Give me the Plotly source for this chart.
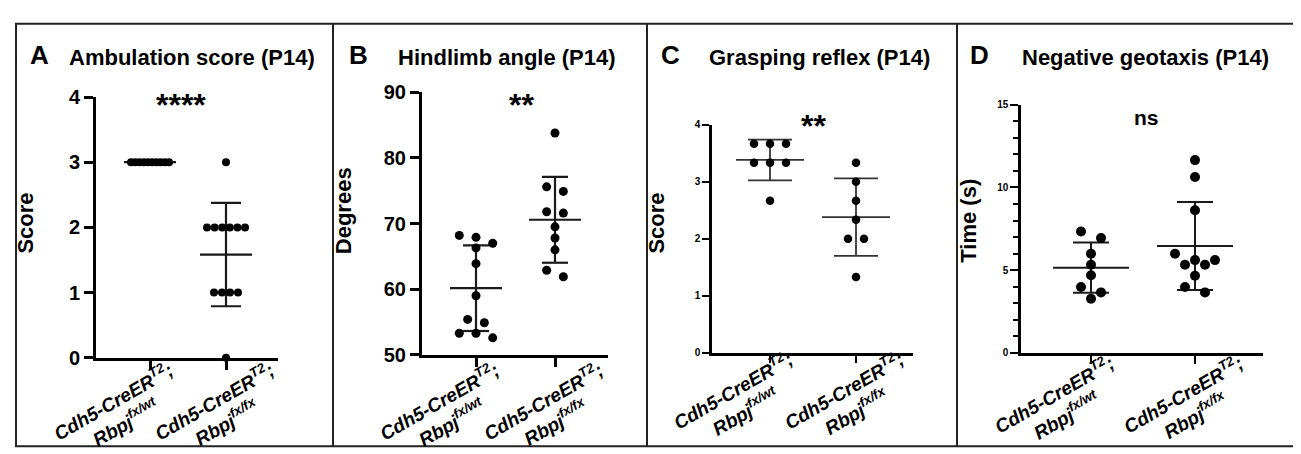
import numpy as np
import plotly.graph_objects as go

W, H = 1301, 454

# ---------------- data ----------------
group_line1 = "Cdh5-CreER<sup>T2</sup>;"
group_line2 = ["Rbpj<sup>fx/wt</sup>", "Rbpj<sup>fx/fx</sup>"]

ambulation_ctrl = [3, 3, 3, 3, 3, 3, 3, 3, 3, 3]
ambulation_mut = [3, 2, 2, 2, 2, 2, 2, 1, 1, 1, 1, 0]

hindlimb_ctrl = [68.2, 67.9, 67.0, 66.3, 63.9, 59.0, 55.4, 54.9, 53.3, 53.3, 52.6]
hindlimb_mut = [83.8, 75.6, 74.9, 71.8, 71.6, 69.5, 67.8, 66.0, 62.9, 61.9]

grasp_ctrl = [3.667, 3.667, 3.667, 3.333, 3.333, 3.333, 2.667]
grasp_mut = [3.333, 3.0, 2.667, 2.333, 2.0, 2.0, 1.333]

geotaxis_ctrl = [7.34, 6.95, 5.99, 5.33, 4.70, 3.99, 3.66, 3.28]
geotaxis_mut = [11.65, 10.63, 8.62, 5.99, 5.61, 5.61, 5.33, 5.33, 4.66, 3.99, 3.66]

panel_letters = ["A", "B", "C", "D"]
panel_titles = ["Ambulation score (P14)", "Hindlimb angle (P14)",
                "Grasping reflex (P14)", "Negative geotaxis (P14)"]
y_titles = ["Score", "Degrees", "Score", "Time (s)"]
significance = ["****", "**", "**", "ns"]
y_ticks = [[0, 1, 2, 3, 4], [50, 60, 70, 80, 90], [0, 1, 2, 3, 4], [0, 5, 10, 15]]
y_ranges = [(0, 4), (50, 90), (0, 4), (0, 15)]
series = [(ambulation_ctrl, ambulation_mut), (hindlimb_ctrl, hindlimb_mut),
          (grasp_ctrl, grasp_mut), (geotaxis_ctrl, geotaxis_mut)]

# ---------------- layout / style (pixels) ----------------
panels = [
    dict(x0=88, x1=270, g=(142, 218), ytop=82, ybot=356, diam=8, step=8, maxhalf=19,
         mean_half=26, cap_half=15, tickfont=20, axw=3, ticklen=9, ebw=2.2, ebc="#1a1a1a",
         letter=(31, 38), title=(184, 40), ytitle=(27, 220), sig=(173, 90, 32), lab_dy=56),
    dict(x0=414, x1=600, g=(468, 547), ytop=77, ybot=353, diam=9, step=16.7, maxhalf=40,
         mean_half=26, cap_half=13, tickfont=20, axw=3, ticklen=9, ebw=2.2, ebc="#1a1a1a",
         letter=(350, 38), title=(499, 40), ytitle=(344, 207), sig=(513, 90, 32), lab_dy=59),
    dict(x0=704, x1=905, g=(762, 848), ytop=111, ybot=351, diam=8.5, step=16, maxhalf=40,
         mean_half=34, cap_half=22, tickfont=10, axw=2.5, ticklen=7, ebw=1.8, ebc="#333333",
         letter=(662, 38), title=(811, 40), ytitle=(658, 220), sig=(806, 112, 32), lab_dy=50),
    dict(x0=1013, x1=1255, g=(1083, 1187), ytop=90, ybot=351, diam=10, step=20, maxhalf=40,
         mean_half=38, cap_half=18, tickfont=10, axw=2.5, ticklen=8, ebw=2, ebc="#1a1a1a",
         letter=(971, 38), title=(1137, 40), ytitle=(970, 217), sig=(1138, 104, 21), lab_dy=54),
]
LAB_DX = (-31, -6)
YT_SHIFT = (-9, -5)
FONT = "Liberation Sans, Arial, sans-serif"


def swarm_offsets(vals, yppu, diam, step, max_half):
    vals = np.asarray(vals, float)
    order = np.argsort(-vals, kind="stable")
    rows = []
    for i in order:
        if rows and (vals[rows[-1][0]] - vals[i]) * yppu < diam:
            rows[-1].append(i)
        else:
            rows.append([i])
    offs = np.zeros(len(vals))
    for r in rows:
        n = len(r)
        s = step if n == 1 else min(step, 2 * max_half / (n - 1))
        for k, i in enumerate(r):
            offs[i] = (k - (n - 1) / 2) * s
    return offs


fig = go.Figure()
annotations = []
shapes = []

for p_i, (P, (ctrl, mut)) in enumerate(zip(panels, series)):
    ax = "" if p_i == 0 else str(p_i + 1)
    xppu = (P["g"][1] - P["g"][0])
    xr = (-(P["g"][0] - P["x0"]) / xppu, 1 + (P["x1"] - P["g"][1]) / xppu)
    y0, y1 = y_ranges[p_i]
    yppu = (P["ybot"] - P["ytop"]) / (y1 - y0)

    for g, vals in enumerate((ctrl, mut)):
        vals = np.asarray(vals, float)
        m = vals.mean()
        sd = vals.std(ddof=1)
        mh = P["mean_half"] / xppu
        ch = P["cap_half"] / xppu
        fig.add_trace(go.Scatter(
            x=[g - mh, g + mh, None, g, g, None, g - ch, g + ch, None, g - ch, g + ch],
            y=[m, m, None, m - sd, m + sd, None, m + sd, m + sd, None, m - sd, m - sd],
            mode="lines", line=dict(color=P["ebc"], width=P["ebw"]),
            xaxis="x" + ax, yaxis="y" + ax, showlegend=False, hoverinfo="skip",
            cliponaxis=False))
        offs = swarm_offsets(vals, yppu, P["diam"], P["step"], P["maxhalf"]) / xppu
        fig.add_trace(go.Scatter(
            x=g + offs, y=vals, mode="markers",
            marker=dict(color="black", size=P["diam"], line=dict(width=0)),
            xaxis="x" + ax, yaxis="y" + ax, showlegend=False, cliponaxis=False))

    xdom = [P["x0"] / W, P["x1"] / W]
    ydom = [1 - P["ybot"] / H, 1 - P["ytop"] / H]
    minor = None
    if p_i == 3:
        minor = dict(dtick=1, ticks="outside", ticklen=5, tickwidth=2, tickcolor="black")
    fig.update_layout(**{
        "xaxis" + ax: dict(domain=xdom, range=list(xr), anchor="y" + ax,
                           showline=True, linecolor="black", linewidth=P["axw"],
                           ticks="outside", tickvals=[0, 1], ticklen=P["ticklen"],
                           tickwidth=P["axw"] - 0.5, tickcolor="black",
                           showticklabels=False, showgrid=False, zeroline=False,
                           fixedrange=True),
        "yaxis" + ax: dict(domain=ydom, range=[y0, y1], anchor="x" + ax,
                           showline=True, linecolor="black", linewidth=P["axw"],
                           ticks="outside", tickvals=y_ticks[p_i],
                           ticktext=["<b>%g</b>" % v for v in y_ticks[p_i]],
                           ticklen=P["ticklen"],
                           tickwidth=P["axw"] - 0.5, tickcolor="black",
                           tickfont=dict(family=FONT, size=P["tickfont"], color="black",
                                         weight=700),
                           showgrid=False, zeroline=False, fixedrange=True,
                           **({"minor": minor} if minor else {})),
    })

    # x category labels
    for g in range(2):
        gx = P["g"][g] + LAB_DX[g]
        annotations.append(dict(
            x=gx / W, y=1 - (P["ybot"] + P["lab_dy"]) / H, xref="paper", yref="paper",
            text="<b><i>" + group_line1 + "</i></b><br><b><i>" + group_line2[g] + "</i></b>",
            showarrow=False, textangle=-30, align="center",
            xanchor="center", yanchor="middle",
            font=dict(family=FONT, size=19, color="black")))

    # panel letter, title, y title, significance
    annotations.append(dict(x=P["letter"][0] / W, y=1 - P["letter"][1] / H,
                            xref="paper", yref="paper", text="<b>" + panel_letters[p_i] + "</b>",
                            showarrow=False, xanchor="center", yanchor="middle",
                            font=dict(family=FONT, size=26, color="black")))
    annotations.append(dict(x=P["title"][0] / W, y=1 - P["title"][1] / H,
                            xref="paper", yref="paper", text="<b>" + panel_titles[p_i] + "</b>",
                            showarrow=False, xanchor="center", yanchor="middle",
                            font=dict(family=FONT, size=22, color="black")))
    annotations.append(dict(x=(P["ytitle"][0] + YT_SHIFT[0]) / W,
                            y=1 - (P["ytitle"][1] + YT_SHIFT[1]) / H,
                            xref="paper", yref="paper", text="<b>" + y_titles[p_i] + "</b>",
                            showarrow=False, textangle=-90, xanchor="center", yanchor="middle",
                            font=dict(family=FONT, size=22, color="black")))
    annotations.append(dict(x=P["sig"][0] / W, y=1 - P["sig"][1] / H,
                            xref="paper", yref="paper", text="<b>" + significance[p_i] + "</b>",
                            showarrow=False, xanchor="center", yanchor="middle",
                            font=dict(family=FONT, size=P["sig"][2], color="black")))

# frame and dividers
shapes.append(dict(type="rect", xref="paper", yref="paper",
                   x0=8 / W, x1=1298 / W, y0=1 - 449 / H, y1=1 - 5 / H,
                   line=dict(color="#222222", width=2)))
for xd in (325, 639, 949):
    shapes.append(dict(type="line", xref="paper", yref="paper",
                       x0=xd / W, x1=xd / W, y0=1 - 449 / H, y1=1 - 5 / H,
                       line=dict(color="#222222", width=2)))

fig.update_layout(width=W, height=H, margin=dict(l=0, r=0, t=0, b=0),
                  paper_bgcolor="white", plot_bgcolor="white",
                  annotations=annotations, shapes=shapes,
                  font=dict(family=FONT, color="black"))

fig.write_html("out.html")
